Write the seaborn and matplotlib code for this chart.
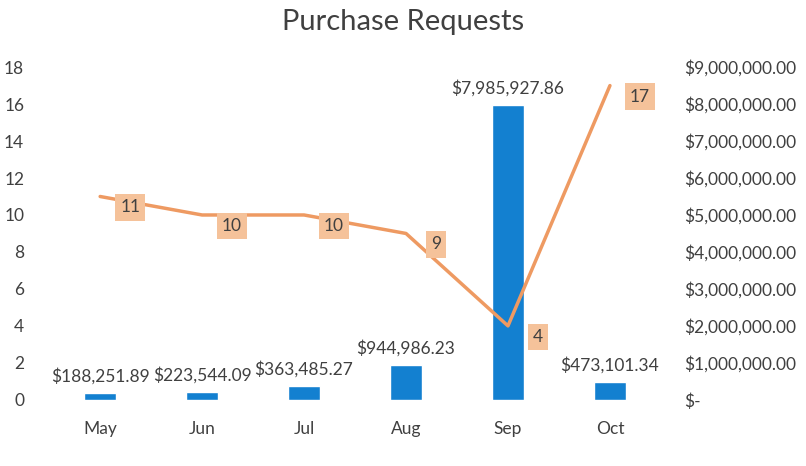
import pandas as pd
import matplotlib.pyplot as plt
import matplotlib.ticker as mticker
import seaborn as sns

# Chart data
months = ["May", "Jun", "Jul", "Aug", "Sep", "Oct"]
amounts = [188251.89, 223544.09, 363485.27, 944986.23, 7985927.86, 473101.34]
requests = [11, 10, 10, 9, 4, 17]

df = pd.DataFrame({"month": months, "amount": amounts, "requests": requests})

sns.set_theme(style="white")
plt.rcParams['font.family'] = ['Lato', 'DejaVu Sans']

bar_color = "#1380D0"
line_color = "#EE9A62"
text_color = "#404040"

fig = plt.figure(figsize=(8.06, 4.66), dpi=100)
ax = fig.add_axes([0.061, 0.142, 0.759, 0.714])
ax2 = ax.twinx()

# bars on the right (dollar) axis
sns.barplot(data=df, x="month", y="amount", ax=ax2, color=bar_color,
            width=0.31, saturation=1)
ax2.bar_label(ax2.containers[0], labels=[f"${v:,.2f}" for v in amounts],
              padding=6, fontsize=12.5, color=text_color)
ax2.set_ylim(0, 9000000)
ax2.yaxis.set_major_locator(mticker.MultipleLocator(1000000))
ax2.yaxis.set_major_formatter(
    mticker.FuncFormatter(lambda v, p: "$-" if v == 0 else f"${v:,.2f}"))

# line on the left (count) axis, drawn in front of the bars
sns.lineplot(data=df, x="month", y="requests", ax=ax, color=line_color,
             linewidth=2.5, sort=False)
ax.set_zorder(ax2.get_zorder() + 1)
ax.patch.set_visible(False)
for i, v in enumerate(requests):
    ax.annotate(str(v), (i, v), xytext=(30, -11), textcoords="offset pixels",
                ha="center", va="center", fontsize=12.5, color=text_color,
                bbox=dict(boxstyle="square,pad=0.3", fc="#F5C29A", ec="none"))

ax.set_ylim(0, 18)
ax.yaxis.set_major_locator(mticker.MultipleLocator(2))
ax.set_xlim(-0.5, 5.5)

for a in (ax, ax2):
    a.set_xlabel("")
    a.set_ylabel("")
    for s in a.spines.values():
        s.set_visible(False)
    a.tick_params(length=0, labelsize=12.5, colors=text_color)
ax.tick_params(axis="y", pad=18)
ax.tick_params(axis="x", pad=15)
ax2.tick_params(axis="y", pad=17)

fig.suptitle("Purchase Requests", y=0.98, fontsize=21, color=text_color)

fig.savefig("out.png", dpi=100)
